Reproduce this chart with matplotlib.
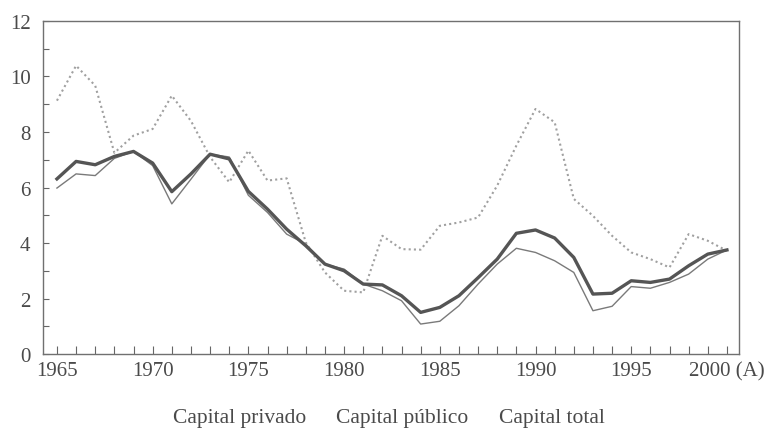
import matplotlib.pyplot as plt
from matplotlib.ticker import MultipleLocator

# Years 1965 - 2000
years = list(range(1965, 2001))

# Capital privado (thin line)
privado = [5.98, 6.49, 6.43, 7.05, 7.30, 6.79, 5.41, 6.30, 7.20, 7.10,
           5.72, 5.10, 4.32, 3.96, 3.24, 3.06, 2.52, 2.28, 1.92, 1.08,
           1.18, 1.74, 2.52, 3.24, 3.81, 3.66, 3.36, 2.94, 1.56, 1.72,
           2.43, 2.37, 2.58, 2.88, 3.42, 3.75]

# Capital publico (dotted line)
publico = [9.13, 10.39, 9.67, 7.25, 7.87, 8.11, 9.31, 8.40, 7.10, 6.19,
           7.33, 6.25, 6.33, 4.02, 2.94, 2.28, 2.22, 4.26, 3.78, 3.76,
           4.62, 4.74, 4.92, 6.07, 7.51, 8.83, 8.35, 5.59, 4.98, 4.26,
           3.66, 3.42, 3.12, 4.32, 4.08, 3.72]

# Capital total (thick line)
total = [6.31, 6.94, 6.82, 7.12, 7.30, 6.88, 5.85, 6.49, 7.20, 7.03,
         5.86, 5.22, 4.50, 3.90, 3.24, 3.00, 2.52, 2.49, 2.10, 1.50,
         1.68, 2.10, 2.75, 3.42, 4.35, 4.47, 4.18, 3.48, 2.16, 2.19,
         2.64, 2.58, 2.70, 3.18, 3.60, 3.75]

labels = ["Capital privado", "Capital público", "Capital total"]
xtick_labels = ["1965", "1970", "1975", "1980", "1985", "1990", "1995", "2000 (A)"]

plt.rcParams['font.family'] = ['Liberation Serif', 'DejaVu Serif']
text_color = "#4a4a4a"

fig = plt.figure(figsize=(7.84, 4.39), dpi=100)
ax = fig.add_axes([0.0548, 0.1913, 0.8878, 0.7586])

l1, = ax.plot(years, privado, color="#7a7a7a", lw=1.0)
l2, = ax.plot(years, publico, color="#a0a0a0", lw=1.5, linestyle=(0, (1, 1.5)))
l3, = ax.plot(years, total, color="#555555", lw=2.4)

ax.set_xlim(1964.27, 2000.63)
ax.set_ylim(0, 12)

ax.set_xticks(list(range(1965, 2001, 5)))
ax.set_xticklabels(xtick_labels)
ax.xaxis.set_minor_locator(MultipleLocator(1))
ax.yaxis.set_major_locator(MultipleLocator(2))
ax.yaxis.set_minor_locator(MultipleLocator(1))

ax.tick_params(axis='both', which='both', direction='in', colors="#666666",
               labelcolor=text_color, labelsize=15, width=0.8)
ax.tick_params(axis='x', which='both', length=6, pad=5)
ax.tick_params(axis='y', which='both', length=4, pad=9)

for side in ax.spines.values():
    side.set_color("#707070")
    side.set_linewidth(1.0)

leg = fig.legend([l1, l2, l3], labels, loc='center', bbox_to_anchor=(0.496, 0.048),
                 ncol=3, frameon=False, handlelength=0, handletextpad=0,
                 columnspacing=1.4, fontsize=15.5, labelcolor=text_color)
for h in leg.legend_handles:
    h.set_visible(False)

plt.savefig("out.png", dpi=100)
